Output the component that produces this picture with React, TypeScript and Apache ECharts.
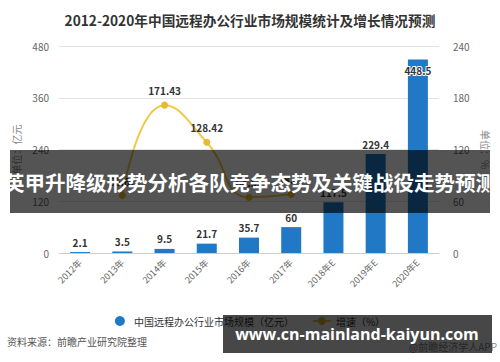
import React, { useEffect, useRef } from "react";
import * as echarts from "echarts";

const categories = ["2012年", "2013年", "2014年", "2015年", "2016年", "2017年", "2018年E", "2019年E", "2020年E"];
const marketSize = [2.1, 3.5, 9.5, 21.7, 35.7, 60, 117.5, 229.4, 448.5];
const growthRate: (number | null)[] = [null, 66.67, 171.43, 128.42, 64.52, 68.07, null, null, null];
const leftTicks = { min: 0, max: 480, interval: 120 };
const rightTicks = { min: 0, max: 240, interval: 60 };

const titleText = "2012-2020年中国远程办公行业市场规模统计及增长情况预测";
const barName = "中国远程办公行业市场规模（亿元）";
const lineName = "增速（%）";
const sourceText = "资料来源：前瞻产业研究院整理";
const bannerText = "英甲升降级形势分析各队竞争态势及关键战役走势预测";
const urlText = "www.cn-mainland-kaiyun.com";
const appText = "@前瞻经济学人APP";

const FONT = "'Noto Sans CJK SC', 'Noto Sans', sans-serif";

export default function App() {
  const ref = useRef<HTMLDivElement>(null);
  useEffect(() => {
    if (!ref.current) return;
    const chart = echarts.init(ref.current, undefined, { renderer: "svg" });
    const lastIdx = marketSize.length - 1;
    chart.setOption({
      animation: false,
      backgroundColor: "#fff",
      textStyle: { fontFamily: FONT },
      title: {
        text: titleText,
        left: "center",
        top: 8,
        textStyle: { fontSize: 13.7, fontWeight: "bold", color: "#333", fontFamily: FONT },
      },
      legend: {
        left: "center",
        top: 311,
        itemGap: 18,
        itemWidth: 18,
        itemHeight: 10,
        textStyle: { fontSize: 10, color: "#333", fontFamily: FONT },
        data: [{ name: barName, icon: "circle" }, { name: lineName }],
      },
      grid: { left: 59, right: 61, top: 46, bottom: 109 },
      xAxis: {
        type: "category",
        data: categories,
        axisLine: { lineStyle: { color: "#ccc" } },
        axisTick: { show: false },
        axisLabel: { rotate: 45, fontSize: 9, color: "#666", margin: 8, fontFamily: FONT },
      },
      yAxis: [
        {
          type: "value",
          ...leftTicks,
          name: "单位：亿元",
          nameLocation: "middle",
          nameRotate: 90,
          nameGap: 38,
          nameTextStyle: { fontSize: 10, color: "#888", fontFamily: FONT },
          axisLine: { show: false },
          axisTick: { show: false },
          axisLabel: { fontSize: 10, color: "#666", margin: 10 },
          splitLine: { lineStyle: { color: "#e3e3e3" } },
        },
        {
          type: "value",
          ...rightTicks,
          name: "单位：%",
          nameLocation: "middle",
          nameRotate: -90,
          nameGap: 38,
          nameTextStyle: { fontSize: 10, color: "#888", fontFamily: FONT },
          axisLine: { show: false },
          axisTick: { show: false },
          axisLabel: { fontSize: 10, color: "#666", margin: 14 },
          splitLine: { show: false },
        },
      ],
      series: [
        {
          name: barName,
          type: "bar",
          barWidth: 20,
          itemStyle: { color: "#2178c4" },
          data: marketSize.map((v, i) =>
            i === lastIdx
              ? {
                  value: v,
                  label: {
                    position: "insideTop",
                    distance: 6,
                    color: "#333",
                    textBorderColor: "#fff",
                    textBorderWidth: 2,
                  },
                }
              : v
          ),
          label: {
            show: true,
            position: "top",
            distance: 5,
            fontSize: 10,
            fontWeight: "bold",
            color: "#333",
            fontFamily: FONT,
          },
        },
        {
          name: lineName,
          type: "line",
          yAxisIndex: 1,
          smooth: true,
          symbol: "circle",
          symbolSize: 7,
          connectNulls: false,
          itemStyle: { color: "#e9b82e" },
          lineStyle: { color: "#f0c84a", width: 2 },
          data: growthRate,
          label: {
            show: true,
            position: "top",
            distance: 6,
            fontSize: 10,
            fontWeight: "bold",
            color: "#333",
            fontFamily: FONT,
          },
        },
      ],
      graphic: [
        {
          type: "text",
          left: 7,
          top: 336,
          z: 100,
          style: { text: sourceText, fontSize: 10, fill: "#555", fontFamily: FONT },
        },
        {
          type: "text",
          right: 3,
          top: 341,
          z: 100,
          style: { text: appText, fontSize: 10, fill: "#888", fontFamily: FONT },
        },
        {
          type: "rect",
          z: 100,
          shape: { x: 10, y: 150, width: 480, height: 63 },
          style: { fill: "rgba(0,0,0,0.67)" },
        },
        {
          type: "text",
          z: 101,
          x: 250,
          y: 181.5,
          style: {
            text: bannerText,
            fontSize: 20.5,
            fontWeight: "bold",
            fill: "#fff",
            fontFamily: FONT,
            align: "center",
            verticalAlign: "middle",
          },
        },
        {
          type: "rect",
          z: 102,
          shape: { x: 223, y: 315, width: 269, height: 38 },
          style: { fill: "rgba(0,0,0,0.72)" },
        },
        {
          type: "text",
          z: 103,
          x: 357,
          y: 334,
          style: {
            text: urlText,
            fontSize: 16,
            fontWeight: "bold",
            fill: "#fff",
            fontFamily: "'Open Sans', 'Noto Sans', sans-serif",
            align: "center",
            verticalAlign: "middle",
          },
        },
      ],
    });
    return () => chart.dispose();
  }, []);
  return <div ref={ref} style={{ position: "fixed", left: 0, top: 0, width: 500, height: 362 }} />;
}
